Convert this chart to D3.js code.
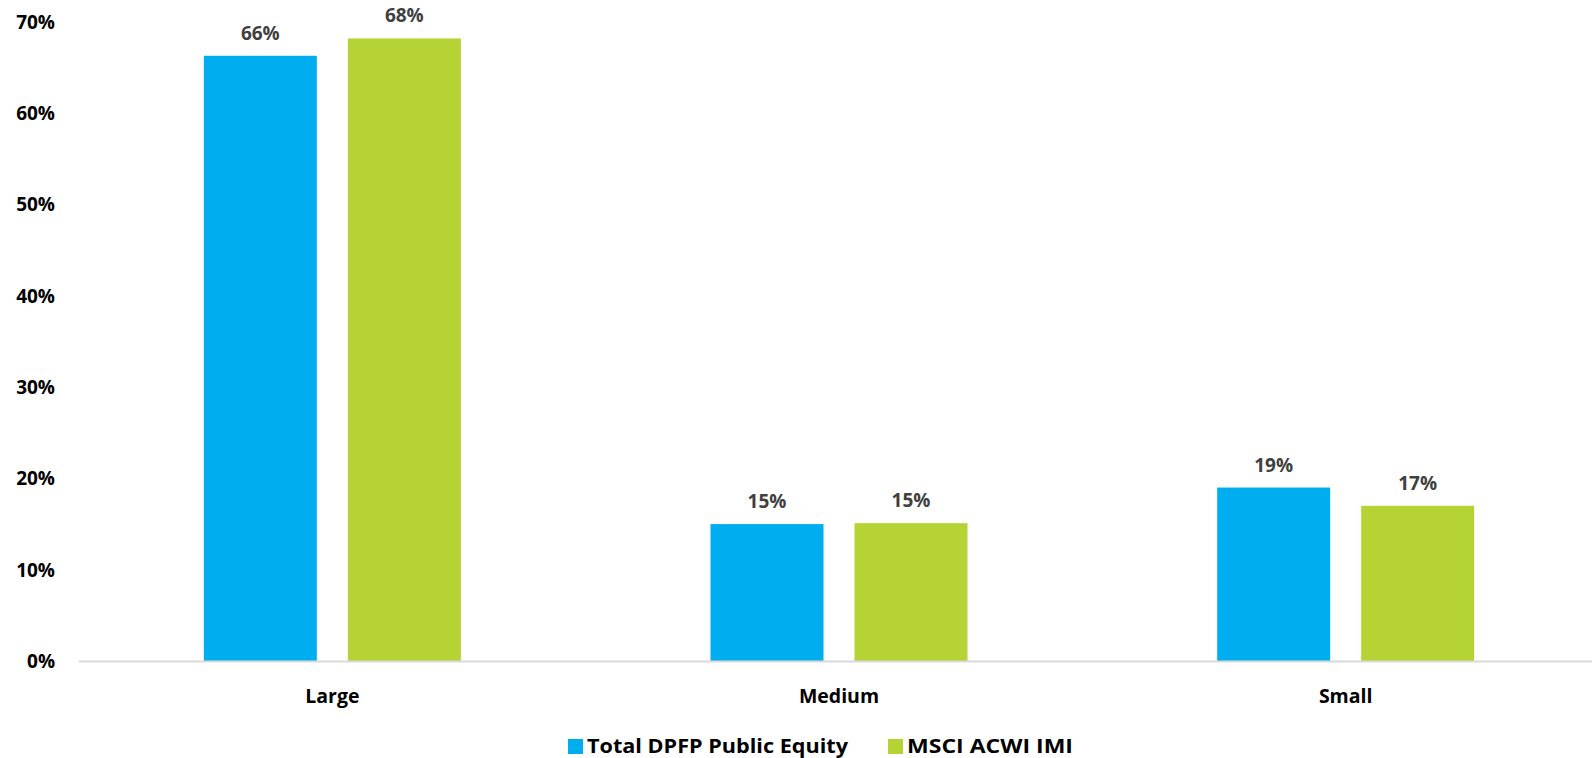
<!DOCTYPE html>
<html>
<head>
<meta charset="utf-8">
<script src="https://cdn.jsdelivr.net/npm/d3@7"></script>
<style>
  html, body { margin: 0; padding: 0; background: #fff; }
  svg { display: block; font-family: "Open Sans", Lato, sans-serif; font-weight: 700; }
</style>
</head>
<body>
<svg id="chart" width="1592" height="758"></svg>
<script>
const categories = ["Large", "Medium", "Small"];
const seriesNames = ["Total DPFP Public Equity", "MSCI ACWI IMI"];
const dpfpValues = [66.3, 15.0, 19.0];
const msciValues = [68.2, 15.1, 17.0];
const yTicks = [0, 10, 20, 30, 40, 50, 60, 70];
const valueLabels = [["66%", "15%", "19%"], ["68%", "15%", "17%"]];
const colors = ["#00AEEF", "#B5D334"];

const svg = d3.select("#chart");
const baseY = 661, topY = 22;
const x0 = d3.scaleBand().domain(categories).range([79, 1599]).paddingInner(0).paddingOuter(0);
const x1 = d3.scaleBand().domain(seriesNames).range([0, 257]).paddingInner(31 / 144).paddingOuter(0);
const y = d3.scaleLinear().domain([0, 70]).range([baseY, topY]);

const series = [dpfpValues, msciValues];

// Y tick labels
svg.append("g").selectAll("text").data(yTicks).join("text")
  .attr("x", 55).attr("y", d => y(d)).attr("dy", "0.36em")
  .attr("text-anchor", "end").attr("font-size", 19).attr("fill", "#000")
  .text(d => d + "%");

// Bars
series.forEach((vals, si) => {
  const g = svg.append("g");
  g.selectAll("rect").data(categories).join("rect")
    .attr("x", (c) => x0(c) + x0.bandwidth() / 2 - 128.5 + x1(seriesNames[si]))
    .attr("width", x1.bandwidth())
    .attr("y", (c, i) => y(vals[i]))
    .attr("height", (c, i) => baseY - y(vals[i]))
    .attr("fill", colors[si]);
  g.selectAll("text").data(categories).join("text")
    .attr("x", (c) => x0(c) + x0.bandwidth() / 2 - 128.5 + x1(seriesNames[si]) + x1.bandwidth() / 2)
    .attr("y", (c, i) => y(vals[i]) - 16)
    .attr("text-anchor", "middle").attr("font-size", 19).attr("fill", "#404040")
    .text((c, i) => valueLabels[si][i]);
});

// Axis line
svg.append("line").attr("x1", 79).attr("x2", 1592).attr("y1", baseY + 0.5).attr("y2", baseY + 0.5)
  .attr("stroke", "#d9d9d9").attr("stroke-width", 2);

// Category labels
svg.append("g").selectAll("text").data(categories).join("text")
  .attr("x", c => x0(c) + x0.bandwidth() / 2).attr("y", 703)
  .attr("text-anchor", "middle").attr("font-size", 19.5).attr("fill", "#000")
  .text(c => c);

// Legend
const legend = [{ name: seriesNames[0], x: 568, w: 261 }, { name: seriesNames[1], x: 888, w: 166 }];
legend.forEach((l, i) => {
  svg.append("rect").attr("x", l.x).attr("y", 739).attr("width", 15).attr("height", 15).attr("fill", colors[i]);
  svg.append("text").attr("x", l.x + 19).attr("y", 753).attr("font-size", 19).attr("fill", "#000")
    .attr("textLength", l.w).attr("lengthAdjust", "spacingAndGlyphs").text(l.name);
});
</script>
</body>
</html>
